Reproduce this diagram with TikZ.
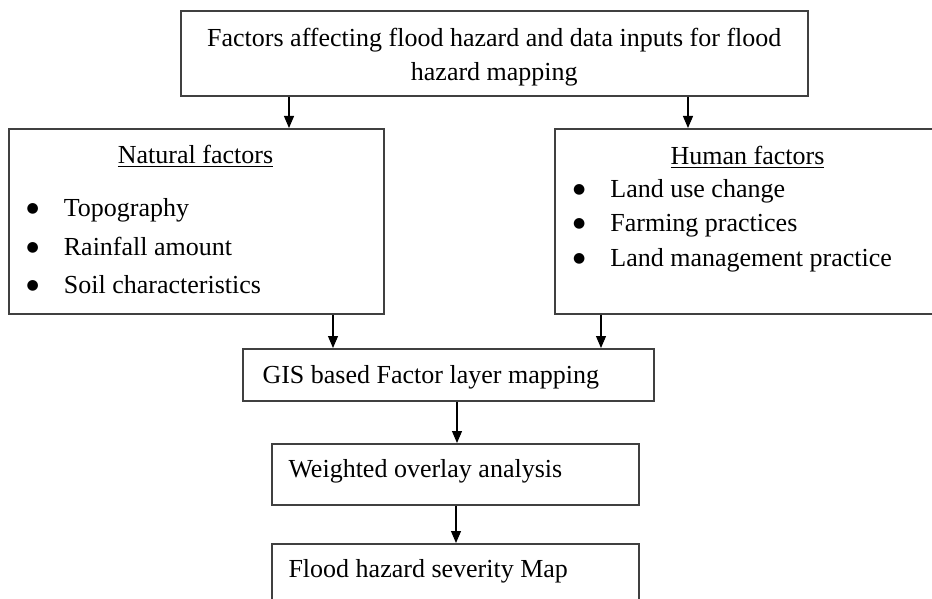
\documentclass[tikz,border=0pt]{standalone}
\usepackage{fontspec}
\setmainfont{Liberation Serif}
\newfontfamily\symfont{DejaVu Sans}
\usetikzlibrary{positioning,calc,arrows.meta}

\tikzset{
  box/.style={draw=black!75, line width=1.2pt, rectangle, anchor=north west, inner sep=0pt},
  txt/.style={inner sep=0pt, font=\fontsize{19.5}{26}\selectfont},
  item/.style={txt, anchor=base west},
}
\newcommand{\bul}[1]{\makebox[28pt][l]{\raisebox{3pt}{\symfont\fontsize{10.5}{10.5}\selectfont ●}}#1}

\begin{document}
\begin{tikzpicture}[x=0.75pt, y=-0.75pt, >={Triangle[length=9pt,width=7.5pt]}, line width=0.8pt]
\clip (0,0) rectangle (932,599);
\fill[white] (0,0) rectangle (932,599);
% boxes
\node[box, minimum width=470.25pt, minimum height=63.75pt] (inputs) at (180,10) {};
\node[box, minimum width=281.25pt, minimum height=138.75pt] (natural) at (8,128) {};
\node[box, minimum width=290.25pt, minimum height=138.75pt] (human) at (554,128) {};
\node[box, minimum width=308.25pt, minimum height=39pt] (gis) at (242,348) {};
\node[box, minimum width=275.25pt, minimum height=45.75pt] (overlay) at (271,443) {};
\node[box, minimum width=275.25pt, minimum height=45.75pt] (severity) at (271,543) {};
% texts
\node[txt, align=center, anchor=center] (inputs-t) at ([yshift=-3pt]inputs.center) {Factors affecting flood hazard and data inputs for flood\\hazard mapping};
\node[txt, anchor=base] (natural-t) at (195.5,164) {\underline{Natural factors}};
\node[item] (nat-1) at (26,217) {\bul{Topography}};
\node[item] (nat-2) at (26,256) {\bul{Rainfall amount}};
\node[item] (nat-3) at (26,293) {\bul{Soil characteristics}};
\node[txt, anchor=base] (human-t) at (747.5,165) {\underline{Human factors}};
\node[item] (hum-1) at (572.5,198) {\bul{Land use change}};
\node[item] (hum-2) at (572.5,232) {\bul{Farming practices}};
\node[item] (hum-3) at (572.5,267) {\bul{Land management practice}};
\node[item] (gis-t) at (262,383) {GIS based Factor layer mapping};
\node[item] (overlay-t) at (288,477) {Weighted overlay analysis};
\node[item] (severity-t) at (288,577) {Flood hazard severity Map};
% arrows
\draw[->] ([xshift=210.75pt]natural.north west |- inputs.south) -- ([xshift=210.75pt]natural.north west);
\draw[->] ([xshift=100.5pt]human.north west |- inputs.south) -- ([xshift=100.5pt]human.north west);
\draw[->] ([xshift=243.75pt]natural.south west) -- ([xshift=243.75pt]natural.south west |- gis.north);
\draw[->] ([xshift=35.25pt]human.south west) -- ([xshift=35.25pt]human.south west |- gis.north);
\draw[->] ([xshift=139.5pt]overlay.north west |- gis.south) -- ([xshift=139.5pt]overlay.north west);
\draw[->] ([xshift=138.75pt]overlay.south west) -- ([xshift=138.75pt]overlay.south west |- severity.north);
\end{tikzpicture}
\end{document}
